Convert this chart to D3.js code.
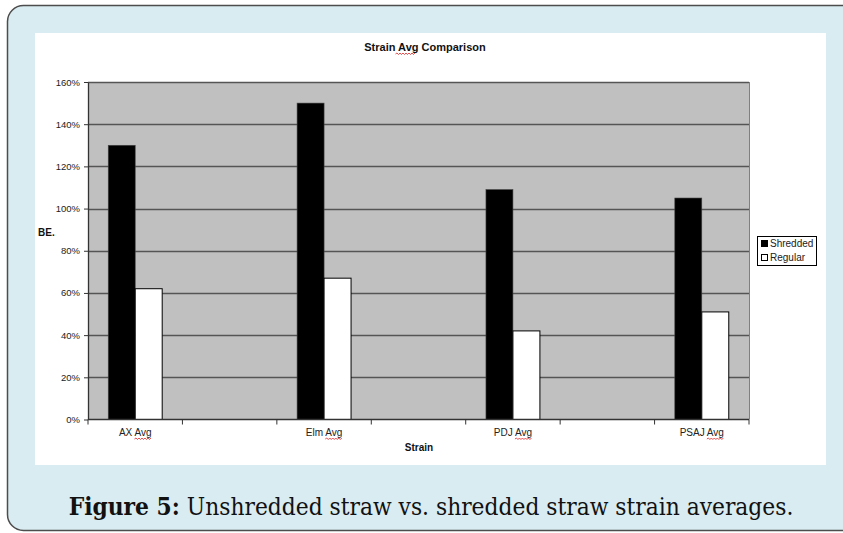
<!DOCTYPE html>
<html>
<head>
<meta charset="utf-8">
<script src="https://cdn.jsdelivr.net/npm/d3@7"></script>
<style>
  html, body { margin: 0; padding: 0; background: #ffffff; }
  svg { display: block; }
</style>
</head>
<body>
<svg id="chart" width="843" height="533"></svg>
<script>
// ---- data ----
const categories = ["AX Avg", "Elm Avg", "PDJ Avg", "PSAJ Avg"];
const shredded = [130, 150, 109, 105];
const regular = [62, 67, 42, 51];
const seriesNames = ["Shredded", "Regular"];
const yTicks = [0, 20, 40, 60, 80, 100, 120, 140, 160];
const chartTitle = "Strain Avg Comparison";
const xTitle = "Strain";
const yTitle = "BE.";
const captionBold = "Figure 5:";
const captionText = " Unshredded straw vs. shredded straw strain averages.";

// Excel category axis has empty categories between the named ones
const slots = ["AX Avg", "", "Elm Avg", "", "PDJ Avg", "", "PSAJ Avg"];

const svg = d3.select("#chart");

// outer framed panel
svg.append("rect")
  .attr("x", 7.5).attr("y", 5.5)
  .attr("width", 900).attr("height", 525)
  .attr("rx", 16).attr("ry", 16)
  .attr("fill", "#d9ecf1")
  .attr("stroke", "#4d4d4d").attr("stroke-width", 1.5);

// white chart area
svg.append("rect")
  .attr("x", 35).attr("y", 33).attr("width", 791).attr("height", 432)
  .attr("fill", "#ffffff");

const plot = { left: 88, right: 749, top: 82, bottom: 419.5 };

const x = d3.scaleBand()
  .domain(d3.range(slots.length))
  .range([plot.left, plot.right])
  .paddingInner(0).paddingOuter(0);

const y = d3.scaleLinear().domain([0, 160]).range([plot.bottom, plot.top]);

// plot background
svg.append("rect")
  .attr("x", plot.left).attr("y", plot.top)
  .attr("width", plot.right - plot.left).attr("height", plot.bottom - plot.top)
  .attr("fill", "#c0c0c0");

// gridlines
svg.append("g").selectAll("line")
  .data(yTicks.filter(d => d > 0))
  .join("line")
  .attr("x1", plot.left).attr("x2", plot.right)
  .attr("y1", d => Math.round(y(d)) + 0.5).attr("y2", d => Math.round(y(d)) + 0.5)
  .attr("stroke", "#555555").attr("stroke-width", 1.3);

// right border of plot area
svg.append("line")
  .attr("x1", plot.right + 0.5).attr("x2", plot.right + 0.5)
  .attr("y1", plot.top).attr("y2", plot.bottom)
  .attr("stroke", "#808080").attr("stroke-width", 1);

// bars
const bandW = x.bandwidth();
const gap = bandW * 1.5 / 3.5;     // Excel gap width 150 %
const barW = (bandW - gap) / 2;
const slotOf = i => slots.indexOf(categories[i]);

const barsG = svg.append("g");
barsG.selectAll("rect.shredded")
  .data(shredded)
  .join("rect")
  .attr("class", "shredded")
  .attr("x", (d, i) => x(slotOf(i)) + gap / 2)
  .attr("y", d => y(d))
  .attr("width", barW)
  .attr("height", d => y(0) - y(d))
  .attr("fill", "#000000").attr("stroke", "#444").attr("stroke-width", 0.6);

barsG.selectAll("rect.regular")
  .data(regular)
  .join("rect")
  .attr("class", "regular")
  .attr("x", (d, i) => x(slotOf(i)) + gap / 2 + barW)
  .attr("y", d => y(d))
  .attr("width", barW)
  .attr("height", d => y(0) - y(d))
  .attr("fill", "#ffffff").attr("stroke", "#000000").attr("stroke-width", 1);

// y axis
const yAxis = d3.axisLeft(y).tickValues(yTicks).tickFormat(d => d + "%").tickSize(4).tickSizeOuter(0);
const yg = svg.append("g").attr("transform", `translate(${plot.left},0)`).call(yAxis);
yg.select(".domain").attr("stroke", "#333").attr("stroke-width", 1.3);
yg.selectAll(".tick line").attr("stroke", "#333");
yg.selectAll(".tick text")
  .attr("font-family", "Liberation Sans, Arial, sans-serif")
  .attr("font-size", 9.5).attr("fill", "#222").attr("x", -8);

// x axis (ticks between categories)
const xg = svg.append("g");
xg.append("line")
  .attr("x1", plot.left).attr("x2", plot.right)
  .attr("y1", plot.bottom).attr("y2", plot.bottom)
  .attr("stroke", "#333").attr("stroke-width", 1.3);
const edges = d3.range(slots.length + 1).map(i => i < slots.length ? x(i) : x(slots.length - 1) + bandW);
xg.selectAll("line.tk").data(edges).join("line")
  .attr("class", "tk")
  .attr("x1", d => d).attr("x2", d => d)
  .attr("y1", plot.bottom).attr("y2", plot.bottom + 5)
  .attr("stroke", "#333").attr("stroke-width", 1);

const labelFont = "Liberation Sans, Arial, sans-serif";

// squiggly underline helper (spell-check marks under "Avg")
function squiggle(g, x0, x1, yy) {
  let p = `M${x0},${yy}`;
  let up = true;
  for (let xx = x0 + 1.5; xx <= x1; xx += 1.5) { p += ` L${xx},${yy + (up ? -1 : 0.5)}`; up = !up; }
  g.append("path").attr("d", p).attr("fill", "none").attr("stroke", "#e02020").attr("stroke-width", 0.8);
}

const catLabels = svg.append("g");
categories.forEach((c, i) => {
  const cx = x(slotOf(i)) + bandW / 2;
  const t = catLabels.append("text")
    .attr("x", cx).attr("y", 436)
    .attr("text-anchor", "middle")
    .attr("font-family", labelFont).attr("font-size", 10).attr("fill", "#222")
    .text(c);
  const bb = t.node().getBBox();
  const tmp = catLabels.append("text").attr("font-family", labelFont).attr("font-size", 10).text("Avg");
  const aw = tmp.node().getComputedTextLength(); tmp.remove();
  squiggle(catLabels, bb.x + bb.width - aw, bb.x + bb.width, 439);
});

// title
const titleT = svg.append("text")
  .attr("x", 425).attr("y", 51)
  .attr("text-anchor", "middle")
  .attr("font-family", labelFont).attr("font-weight", "bold").attr("font-size", 11)
  .attr("fill", "#111").text(chartTitle);
{
  const bb = titleT.node().getBBox();
  const tmp = svg.append("text").attr("font-family", labelFont).attr("font-weight", "bold").attr("font-size", 11).text("Strain ");
  const sw = tmp.node().getComputedTextLength();
  tmp.text("Avg"); const aw = tmp.node().getComputedTextLength(); tmp.remove();
  squiggle(svg, bb.x + sw, bb.x + sw + aw, 54);
}

// axis titles
svg.append("text")
  .attr("x", 419).attr("y", 451).attr("text-anchor", "middle")
  .attr("font-family", labelFont).attr("font-weight", "bold").attr("font-size", 10)
  .attr("fill", "#111").text(xTitle);
svg.append("text")
  .attr("x", 38).attr("y", 236)
  .attr("font-family", labelFont).attr("font-weight", "bold").attr("font-size", 10)
  .attr("fill", "#111").text(yTitle);

// legend
const lg = svg.append("g").attr("transform", "translate(757,236)");
lg.append("rect").attr("x", 0.5).attr("y", 0.5).attr("width", 59).attr("height", 29)
  .attr("fill", "#fff").attr("stroke", "#000").attr("stroke-width", 1);
const legendFills = ["#000000", "#ffffff"];
seriesNames.forEach((s, i) => {
  lg.append("rect").attr("x", 4.5).attr("y", 4.5 + i * 14).attr("width", 6).attr("height", 6)
    .attr("fill", legendFills[i]).attr("stroke", "#000").attr("stroke-width", 1);
  lg.append("text").attr("x", 13).attr("y", 11 + i * 14)
    .attr("font-family", labelFont).attr("font-size", 10).attr("fill", "#222").text(s);
});

// caption (narrow, tall serif like the reference)
const capG = svg.append("g");
const cap = capG.append("text")
  .attr("x", 0).attr("y", 0).attr("text-anchor", "middle")
  .attr("font-family", "'DejaVu Serif', serif")
  .style("font-stretch", "condensed")
  .attr("font-size", 24).attr("fill", "#111");
cap.append("tspan").attr("font-weight", "bold").text(captionBold);
cap.append("tspan").text(captionText);
{
  const w = cap.node().getComputedTextLength();
  const target = 725;
  const sx = target / w;
  // keep the glyph height of the 24px font, squeeze/stretch horizontally to fit
  capG.attr("transform", `translate(431,515) scale(${sx},1)`);
}
</script>
</body>
</html>
